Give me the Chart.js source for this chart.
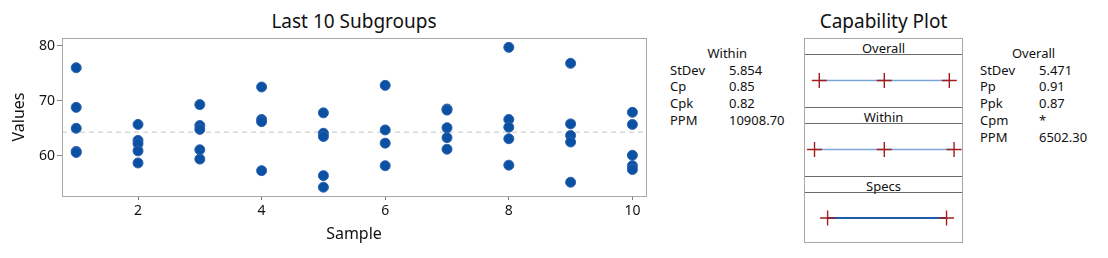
<!DOCTYPE html>
<html lang="en">
<head>
<meta charset="UTF-8">
<title>Last 10 Subgroups | Capability</title>
<script src="https://cdn.jsdelivr.net/npm/chart.js"></script>
<style>
    body { margin: 0; background: #fff; font-family: "Noto Sans", sans-serif; color: #111; }
    .wrap { position: relative; width: 1108px; height: 258px; overflow: hidden; background: #fff; }
    .title { position: absolute; top: 8px; font-size: 19px; line-height: 26px; text-align: center; color: #111; }
    .stats { position: absolute; top: 45px; font-size: 13px; line-height: 16.7px; display: grid; grid-template-columns: 59px auto; color: #111; }
    .stats .head { grid-column: 1 / 3; text-align: center; }
    .capbox { position: absolute; left: 804px; top: 38px; width: 157px; height: 203px; border: 1px solid #a8a8a8; }
    .panel { height: 68px; border-bottom: 1px solid #6a6a6a; }
    .panel:last-child { border-bottom: none; }
    .panel .hdr { height: 16px; border-bottom: 1px solid #6a6a6a; font-size: 13px; line-height: 15px; text-align: center; padding-top: 2px; box-sizing: border-box; color: #111; }
    .panel canvas { display: block; }
</style>
</head>
<body>
<div class="wrap">
    <div class="title" style="left:62px;width:584px;">Last 10 Subgroups</div>
    <canvas id="graficoSubgrupos" width="660" height="258" style="position:absolute;left:0;top:0;"></canvas>

    <div class="stats" id="statsWithin" style="left:670px;"></div>

    <div class="title" style="left:804px;width:159px;">Capability Plot</div>
    <div class="capbox">
        <div class="panel"><div class="hdr">Overall</div><canvas id="capOverall" width="157" height="51"></canvas></div>
        <div class="panel"><div class="hdr">Within</div><canvas id="capWithin" width="157" height="51"></canvas></div>
        <div class="panel"><div class="hdr">Specs</div><canvas id="capSpecs" width="157" height="50"></canvas></div>
    </div>

    <div class="stats" id="statsOverall" style="left:980px;"></div>
</div>

<script>
    // values, one subgroup per sample
    const sampleNumbers = [1, 2, 3, 4, 5, 6, 7, 8, 9, 10];
    const sample1 = [76.0, 68.8, 65.0, 60.8, 60.6];
    const sample2 = [65.7, 62.8, 62.2, 60.9, 58.7];
    const sample3 = [69.3, 65.5, 64.8, 61.1, 59.4];
    const sample4 = [72.5, 66.6, 66.2, 57.3];
    const sample5 = [67.8, 64.1, 63.5, 56.4, 54.3];
    const sample6 = [72.8, 64.7, 62.3, 58.2];
    const sample7 = [68.5, 68.3, 65.1, 63.3, 61.2];
    const sample8 = [79.7, 66.6, 65.2, 63.1, 58.3];
    const sample9 = [76.8, 65.8, 63.7, 62.5, 55.2];
    const sample10 = [67.9, 65.7, 60.1, 58.2, 57.5];
    const subgroups = [sample1, sample2, sample3, sample4, sample5, sample6, sample7, sample8, sample9, sample10];

    const processMean = 64.3;
    const xTicks = [2, 4, 6, 8, 10];
    const yTicks = [60, 70, 80];
    const xRange = [0.77, 10.22];
    const yRange = [52.7, 81.4];

    // capability plot: lower, centre, upper marks
    const overallMarks = [47.9, 64.3, 80.7];
    const withinMarks = [46.7, 64.3, 81.9];
    const specMarks = [50, 80];
    const capRange = [44.3, 83.9];

    const withinLabels = ['StDev', 'Cp', 'Cpk', 'PPM'];
    const withinValues = ['5.854', '0.85', '0.82', '10908.70'];
    const overallLabels = ['StDev', 'Pp', 'Ppk', 'Cpm', 'PPM'];
    const overallValues = ['5.471', '0.91', '0.87', '*', '6502.30'];

    const corTexto = '#111';
    const fonte = '"Noto Sans", sans-serif';

    function montarTabela(id, titulo, labels, values) {
        const el = document.getElementById(id);
        let html = `<div class="head">${titulo}</div>`;
        for (let i = 0; i < labels.length; i++) {
            html += `<div>${labels[i]}</div><div>${values[i]}</div>`;
        }
        el.innerHTML = html;
    }
    montarTabela('statsWithin', 'Within', withinLabels, withinValues);
    montarTabela('statsOverall', 'Overall', overallLabels, overallValues);

    const pontos = [];
    for (let i = 0; i < sampleNumbers.length; i++) {
        for (let j = 0; j < subgroups[i].length; j++) {
            pontos.push({ x: sampleNumbers[i], y: subgroups[i][j] });
        }
    }

    const bordaArea = {
        id: 'bordaArea',
        afterDraw(chart) {
            const a = chart.chartArea;
            const ctx = chart.ctx;
            ctx.save();
            ctx.strokeStyle = '#a8a8a8';
            ctx.lineWidth = 1;
            ctx.strokeRect(Math.round(a.left) + 0.5, Math.round(a.top) + 0.5, Math.round(a.right - a.left), Math.round(a.bottom - a.top));
            ctx.restore();
        }
    };

    new Chart(document.getElementById('graficoSubgrupos'), {
        type: 'scatter',
        data: {
            datasets: [{
                type: 'line',
                data: [{ x: xRange[0], y: processMean }, { x: xRange[1], y: processMean }],
                borderColor: '#c4c4c4',
                borderWidth: 1,
                borderDash: [5, 4],
                pointRadius: 0,
                order: 2
            }, {
                data: pontos,
                backgroundColor: '#0a51a3',
                borderColor: '#2d62ad',
                borderWidth: 1,
                pointRadius: 5,
                order: 1
            }]
        },
        options: {
            responsive: false,
            animation: false,
            layout: { padding: { top: 38, right: 14, left: 0, bottom: 0 } },
            plugins: { legend: { display: false }, tooltip: { enabled: false } },
            scales: {
                x: {
                    type: 'linear',
                    min: xRange[0],
                    max: xRange[1],
                    afterBuildTicks(scale) { scale.ticks = xTicks.map(v => ({ value: v })); },
                    afterFit(scale) { scale.height = 62; },
                    grid: { drawOnChartArea: false, tickLength: 4, color: '#808080' },
                    border: { display: false },
                    ticks: { color: corTexto, font: { family: fonte, size: 14 }, padding: 3 },
                    title: { display: true, text: 'Sample', color: corTexto, font: { family: fonte, size: 16 }, padding: { top: 0, bottom: 14 } }
                },
                y: {
                    min: yRange[0],
                    max: yRange[1],
                    afterBuildTicks(scale) { scale.ticks = yTicks.map(v => ({ value: v })); },
                    afterFit(scale) { scale.width = 62; },
                    grid: { drawOnChartArea: false, tickLength: 5, color: '#808080' },
                    border: { display: false },
                    ticks: { color: corTexto, font: { family: fonte, size: 14 }, padding: 2 },
                    title: { display: true, text: 'Values', color: corTexto, font: { family: fonte, size: 16 }, padding: { top: 10, bottom: 0 } }
                }
            }
        },
        plugins: [bordaArea]
    });

    function graficoCapacidade(id, marks, corLinha, larguraLinha) {
        new Chart(document.getElementById(id), {
            type: 'line',
            data: {
                datasets: [{
                    data: marks.map(v => ({ x: v, y: 0.5 })),
                    borderColor: corLinha,
                    borderWidth: larguraLinha,
                    pointStyle: 'cross',
                    pointRadius: 7.5,
                    pointBorderColor: '#a31d1d',
                    pointBorderWidth: 1.4,
                    clip: false
                }]
            },
            options: {
                responsive: false,
                animation: false,
                layout: { padding: 0, autoPadding: false },
                plugins: { legend: { display: false }, tooltip: { enabled: false } },
                scales: {
                    x: { type: 'linear', display: false, min: capRange[0], max: capRange[1] },
                    y: { display: false, min: 0, max: 1 }
                }
            }
        });
    }
    graficoCapacidade('capOverall', overallMarks, '#7aa6d6', 1.5);
    graficoCapacidade('capWithin', withinMarks, '#7aa6d6', 1.5);
    graficoCapacidade('capSpecs', specMarks, '#1f5aa6', 2);
</script>
</body>
</html>
